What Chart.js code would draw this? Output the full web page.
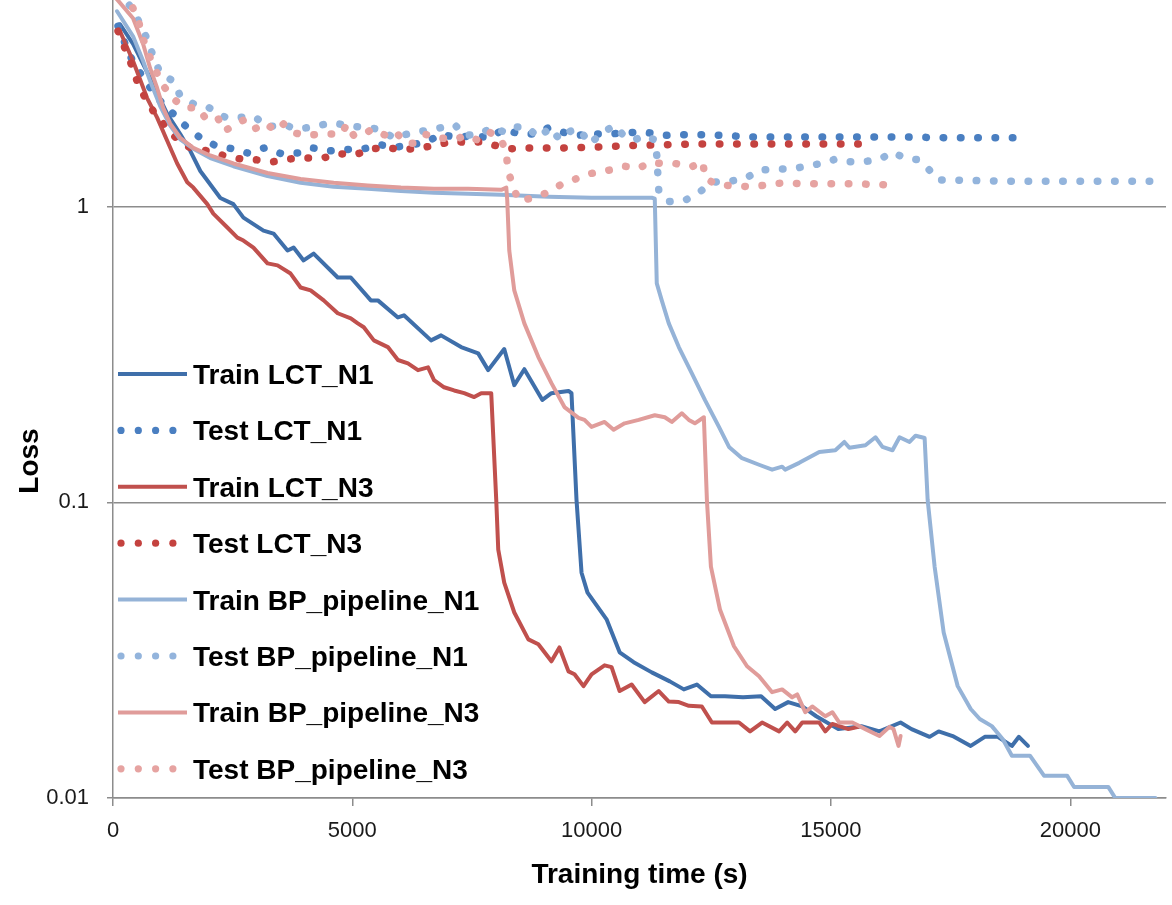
<!DOCTYPE html>
<html>
<head>
<meta charset="utf-8">
<script src="https://cdn.jsdelivr.net/npm/chart.js@4/dist/chart.umd.min.js"></script>
<style>
  html, body { margin: 0; padding: 0; background: #fff; }
  #wrap { width: 1172px; height: 905px; }
</style>
</head>
<body>
<div id="wrap"><canvas id="lossChart" width="1172" height="905"></canvas></div>
<script>
// axis ticks
const xTicks = [0, 5000, 10000, 15000, 20000];
const yTicks = [0.01, 0.1, 1];

const seriesNames = [
  "Train LCT_N1", "Test LCT_N1", "Train LCT_N3", "Test LCT_N3",
  "Train BP_pipeline_N1", "Test BP_pipeline_N1", "Train BP_pipeline_N3", "Test BP_pipeline_N3"
];
const seriesColors = ["#3F6FAA", "#4A7FC1", "#C0504D", "#C4423F", "#95B3D7", "#93B4DC", "#E09C9A", "#E6A3A1"];

// [training time (s), loss]
const trainLctN1 = [[147,4.14],[419,3.55],[776,2.72],[1132,2.06],[1404,1.76],[1614,1.545],[1824,1.32],[2243,1.07],[2515,1.02],[2725,0.918],[3144,0.83],[3354,0.811],[3647,0.711],[3773,0.727],[3982,0.658],[4192,0.694],[4695,0.576],[4968,0.576],[5387,0.482],[5534,0.482],[5953,0.422],[6079,0.429],[6645,0.353],[6854,0.367],[7273,0.335],[7630,0.319],[7839,0.28],[8174,0.33],[8384,0.249],[8594,0.282],[8971,0.222],[9160,0.234],[9516,0.238],[9579,0.234],[9684,0.102],[9789,0.0578],[9914,0.0495],[10312,0.0402],[10585,0.0311],[10878,0.0288],[11256,0.0266],[11633,0.0248],[11926,0.0233],[12199,0.0242],[12492,0.0221],[12786,0.0221],[13163,0.0219],[13540,0.0221],[13834,0.02],[14106,0.0211],[14400,0.0204],[14693,0.0189],[15154,0.0171],[15636,0.0175],[16013,0.0168],[16454,0.018],[16684,0.0171],[17061,0.0161],[17250,0.0168],[17543,0.0162],[17920,0.015],[18214,0.0161],[18486,0.0161],[18780,0.015],[18927,0.0161],[19116,0.015]];

const testLctN1 = [[105,4.08],[356,3.23],[671,2.66],[985,2.28],[1300,2.03],[1551,1.85],[1824,1.71],[2138,1.61],[2494,1.57],[2809,1.52],[3165,1.58],[3522,1.51],[3878,1.52],[4171,1.58],[4527,1.545],[4905,1.56],[5240,1.57],[5575,1.62],[5911,1.59],[6267,1.62],[6602,1.67],[6854,1.76],[7168,1.71],[7525,1.74],[7860,1.71],[8174,1.83],[8489,1.76],[8824,1.76],[9097,1.85],[9432,1.78],[9663,1.74],[9998,1.76],[10375,1.76],[10731,1.78],[11108,1.79],[11465,1.74],[11800,1.75],[12513,1.75],[13352,1.72],[14400,1.72],[15448,1.72],[16496,1.72],[17543,1.71],[19032,1.71]];

const trainLctN3 = [[147,3.92],[419,3.11],[713,2.33],[922,2.0],[1132,1.67],[1341,1.4],[1551,1.21],[1677,1.16],[1970,1.02],[2096,0.947],[2389,0.85],[2599,0.786],[2725,0.768],[2934,0.727],[3228,0.643],[3438,0.633],[3710,0.594],[3920,0.533],[4129,0.521],[4402,0.482],[4695,0.436],[4968,0.419],[5114,0.403],[5240,0.391],[5450,0.353],[5743,0.335],[5953,0.303],[6162,0.295],[6372,0.28],[6582,0.286],[6707,0.259],[6917,0.245],[7127,0.239],[7337,0.234],[7546,0.227],[7693,0.234],[7902,0.234],[8007,0.102],[8049,0.0692],[8174,0.0535],[8384,0.0424],[8678,0.0344],[8887,0.0331],[9160,0.029],[9327,0.0323],[9516,0.0268],[9642,0.0262],[9830,0.0239],[9998,0.0262],[10270,0.0281],[10417,0.0277],[10585,0.023],[10836,0.0242],[11108,0.0211],[11402,0.023],[11612,0.0212],[11821,0.0211],[12031,0.0205],[12303,0.0204],[12513,0.018],[12786,0.018],[13079,0.018],[13310,0.0168],[13561,0.018],[13917,0.0168],[14085,0.018],[14253,0.0168],[14400,0.018],[14756,0.018],[14882,0.0168],[15029,0.0178],[15364,0.0171],[15573,0.0174]];

const testLctN3 = [[105,3.92],[356,3.11],[503,2.66],[671,2.33],[838,2.11],[1090,1.88],[1341,1.69],[1614,1.58],[1970,1.545],[2306,1.49],[2662,1.45],[2997,1.44],[3354,1.42],[3689,1.45],[4045,1.46],[4381,1.46],[4716,1.51],[5072,1.5],[5408,1.57],[5743,1.58],[6079,1.56],[6435,1.58],[6791,1.62],[7127,1.67],[7420,1.64],[7693,1.66],[7986,1.61],[8300,1.57],[8657,1.58],[9390,1.58],[10103,1.59],[10836,1.61],[11549,1.62],[12283,1.63],[13352,1.63],[14442,1.63],[15573,1.63]];

const trainBpN1 = [[84,4.58],[419,3.77],[629,3.11],[776,2.66],[985,2.19],[1195,1.88],[1404,1.69],[1677,1.57],[2033,1.46],[2515,1.37],[3228,1.27],[3920,1.205],[4611,1.168],[5324,1.15],[6016,1.13],[6707,1.115],[7420,1.106],[8112,1.097],[9097,1.08],[9998,1.072],[10627,1.072],[11256,1.072],[11319,1.064],[11361,0.55],[11465,0.482],[11612,0.403],[11821,0.335],[12094,0.273],[12366,0.222],[12660,0.18],[12870,0.154],[13142,0.141],[13498,0.134],[13771,0.129],[13980,0.132],[14043,0.129],[14337,0.136],[14756,0.148],[15091,0.15],[15280,0.16],[15385,0.153],[15720,0.156],[15930,0.166],[16076,0.154],[16286,0.15],[16433,0.166],[16642,0.16],[16768,0.168],[16957,0.165],[17020,0.102],[17166,0.0606],[17355,0.0363],[17648,0.0239],[17920,0.02],[18109,0.0185],[18361,0.0175],[18591,0.0158],[18780,0.0139],[19158,0.0139],[19451,0.0119],[19933,0.0119],[20080,0.0109],[20793,0.0109],[20940,0.01],[21778,0.01]];

const testBpN1 = [[100,5.3],[419,4.65],[566,4.14],[734,3.63],[838,3.23],[985,2.83],[1258,2.66],[1404,2.37],[1698,2.22],[1991,2.17],[2201,2.06],[2369,2.0],[2976,2.01],[3207,1.86],[3563,1.89],[3878,1.83],[4150,1.86],[4569,1.92],[5135,1.86],[5554,1.83],[5869,1.71],[6079,1.75],[6372,1.79],[6707,1.83],[7147,1.89],[7336,1.74],[7651,1.76],[7923,1.85],[8217,1.78],[8426,1.86],[8657,1.86],[8887,1.71],[9139,1.85],[9327,1.69],[9558,1.8],[9747,1.83],[9956,1.63],[10228,1.78],[10480,1.88],[10711,1.71],[10920,1.69],[11130,1.74],[11319,1.68],[11361,1.49],[11382,1.3],[11403,1.13],[11591,1.04],[11947,1.05],[12241,1.115],[12513,1.21],[12911,1.22],[13226,1.25],[13519,1.33],[13834,1.34],[14169,1.34],[14484,1.37],[14798,1.4],[15112,1.45],[15385,1.42],[15699,1.42],[16034,1.45],[16286,1.53],[16537,1.46],[16831,1.44],[17040,1.34],[17229,1.23],[17585,1.23],[18591,1.22],[19640,1.22],[20688,1.22],[21882,1.22]];

const trainBpN3 = [[50,5.1],[419,4.34],[629,3.55],[776,2.94],[922,2.52],[1048,2.16],[1195,1.91],[1404,1.71],[1677,1.58],[2033,1.49],[2515,1.4],[3228,1.3],[3920,1.24],[4611,1.205],[5324,1.18],[6016,1.16],[6707,1.15],[7420,1.15],[8112,1.14],[8217,1.16],[8237,1.05],[8279,0.711],[8384,0.521],[8594,0.403],[8887,0.31],[9160,0.253],[9432,0.21],[9726,0.193],[9851,0.19],[9998,0.18],[10270,0.187],[10459,0.176],[10689,0.185],[10983,0.19],[11319,0.197],[11528,0.194],[11675,0.187],[11884,0.2],[12031,0.19],[12157,0.185],[12345,0.194],[12408,0.102],[12492,0.0606],[12681,0.0434],[12974,0.0326],[13247,0.0279],[13498,0.0258],[13771,0.0228],[13980,0.0233],[14190,0.0219],[14295,0.0224],[14463,0.0195],[14609,0.0204],[14882,0.0189],[15029,0.0195],[15175,0.018],[15448,0.018],[15720,0.0171],[16013,0.0162],[16223,0.0174],[16307,0.0171],[16412,0.015],[16454,0.0162]];

const testBpN3 = [[250,5.3],[398,4.76],[524,4.31],[608,3.77],[734,3.31],[880,2.92],[1027,2.6],[1237,2.33],[1509,2.16],[1782,2.16],[1970,1.95],[2201,1.98],[2327,1.8],[2536,1.89],[2746,1.97],[2955,1.83],[3186,1.92],[3396,1.8],[3563,1.905],[3752,1.78],[4066,1.74],[4318,1.76],[4779,1.76],[4884,1.905],[5030,1.74],[5219,1.74],[5408,1.83],[5701,1.74],[5890,1.8],[6120,1.64],[6288,1.64],[6498,1.76],[6791,1.71],[7127,1.69],[7399,1.74],[7651,1.67],[7881,1.78],[8112,1.69],[8217,1.51],[8258,1.31],[8468,1.048],[8782,1.07],[9097,1.12],[9390,1.196],[9726,1.25],[9935,1.29],[10145,1.31],[10375,1.33],[10689,1.37],[10983,1.35],[11214,1.41],[11465,1.4],[11737,1.4],[12094,1.365],[12324,1.42],[12366,1.25],[12618,1.186],[12953,1.177],[13331,1.168],[13687,1.186],[14022,1.205],[14379,1.196],[14735,1.196],[15448,1.196],[16118,1.186]];

const seriesData = [trainLctN1, testLctN1, trainLctN3, testLctN3, trainBpN1, testBpN1, trainBpN3, testBpN3];

const DOT_DASH = [0.5, 16.8];
const isTest = (name) => name.startsWith("Test");

const datasets = seriesNames.map((name, i) => ({
  label: name,
  data: seriesData[i].map(([x, y]) => ({ x, y })),
  borderColor: seriesColors[i],
  backgroundColor: seriesColors[i],
  borderWidth: isTest(name) ? 7.5 : 4,
  borderDash: isTest(name) ? DOT_DASH : [],
  borderCapStyle: "round",
  borderJoinStyle: "round",
  pointRadius: 0,
  tension: 0,
  fill: false,
  order: seriesNames.length - i, // later series on top, like the source
}));

// legend inside the plot + rotated y title
const sideLegend = {
  id: "sideLegend",
  afterDraw(chart) {
    const ctx = chart.ctx;
    ctx.save();
    ctx.font = "bold 28px 'Liberation Sans', Arial, sans-serif";
    ctx.textAlign = "left";
    ctx.textBaseline = "alphabetic";
    chart.data.datasets.forEach((ds, i) => {
      const y = 374 + i * 56.4;
      ctx.strokeStyle = ds.borderColor;
      ctx.fillStyle = ds.borderColor;
      if (isTest(ds.label)) {
        for (let k = 0; k < 4; k++) {
          ctx.beginPath();
          ctx.arc(121 + k * 17.3, y, 3.6, 0, Math.PI * 2);
          ctx.fill();
        }
      } else {
        ctx.lineWidth = 4;
        ctx.lineCap = "butt";
        ctx.beginPath();
        ctx.moveTo(118, y);
        ctx.lineTo(187, y);
        ctx.stroke();
      }
      ctx.fillStyle = "#000";
      ctx.fillText(ds.label, 193, y + 10);
    });

    ctx.translate(30, 461);
    ctx.rotate(-Math.PI / 2);
    ctx.textAlign = "center";
    ctx.textBaseline = "middle";
    ctx.fillStyle = "#000";
    ctx.fillText("Loss", 0, 0);
    ctx.restore();
  },
};

const axisGrey = "#8C8C8C";

// drop the label-overflow padding Chart.js adds, so the plot reaches the top edge
const noEdgePadding = (s) => {
  s.paddingTop = 0;
  s.paddingBottom = 0;
  s.paddingLeft = 0;
  s.paddingRight = 0;
};

new Chart(document.getElementById("lossChart"), {
  type: "line",
  data: { datasets },
  options: {
    responsive: false,
    animation: false,
    devicePixelRatio: 1,
    layout: { padding: { top: 0, right: 6, bottom: 0, left: 0 } },
    plugins: {
      legend: { display: false },
      tooltip: { enabled: false },
    },
    scales: {
      x: {
        type: "linear",
        min: 0,
        max: 22000,
        afterBuildTicks: (s) => { s.ticks = xTicks.map(v => ({ value: v })); },
        afterFit: (s) => { s.height = 107; noEdgePadding(s); },
        ticks: {
          color: "#1a1a1a",
          font: { family: "'Liberation Sans', Arial, sans-serif", size: 22 },
          padding: 12,
          maxRotation: 0,
          callback: (v) => String(v),
        },
        grid: { drawOnChartArea: false, drawTicks: true, tickLength: 8, color: axisGrey, lineWidth: 1.5 },
        border: { display: true, color: axisGrey, width: 1.5 },
        title: {
          display: true,
          text: "Training time (s)",
          color: "#000",
          font: { family: "'Liberation Sans', Arial, sans-serif", size: 28, weight: "bold" },
          padding: { top: 0, bottom: 13 },
        },
      },
      y: {
        type: "logarithmic",
        min: 0.01,
        max: 5,
        afterBuildTicks: (s) => { s.ticks = yTicks.map(v => ({ value: v })); },
        afterFit: (s) => { s.width = 113; noEdgePadding(s); },
        ticks: {
          color: "#1a1a1a",
          font: { family: "'Liberation Sans', Arial, sans-serif", size: 22 },
          padding: 18,
          callback: (v) => String(v),
        },
        grid: { drawOnChartArea: true, drawTicks: true, tickLength: 6, color: axisGrey, lineWidth: 1.5 },
        border: { display: true, color: axisGrey, width: 1.5 },
      },
    },
  },
  plugins: [sideLegend],
});
</script>
</body>
</html>
